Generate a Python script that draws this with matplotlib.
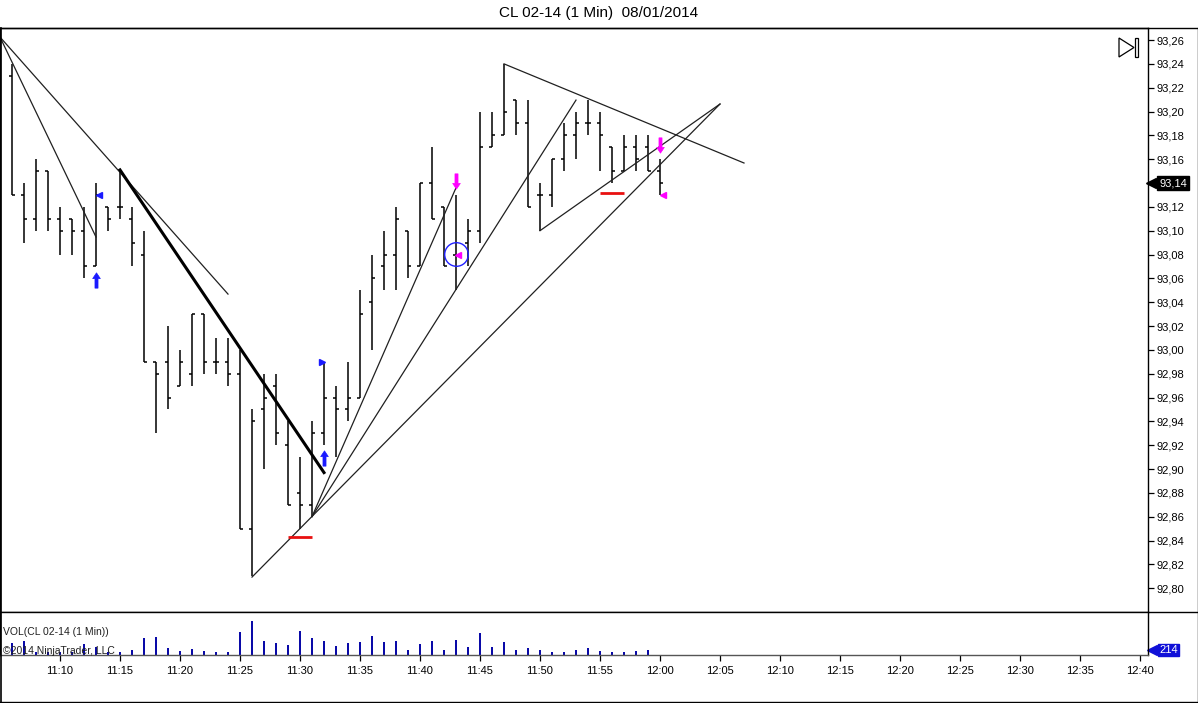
import matplotlib
matplotlib.use("Agg")
import matplotlib.pyplot as plt
from matplotlib.path import Path
from matplotlib.lines import Line2D
from matplotlib.patches import Polygon, Rectangle
import numpy as np

plt.rcParams['font.family'] = ['Liberation Sans', 'DejaVu Sans']

# ---------------- data ----------------
# minutes after 11:00
minutes = list(range(6, 61))
opens  = [93.23, 93.13, 93.11, 93.15, 93.11, 93.11, 93.10, 93.07, 93.12, 93.12,
          93.11, 93.08, 92.99, 92.99, 92.97, 92.98, 93.03, 92.99, 92.99, 92.98,
          92.85, 92.95, 92.97, 92.92, 92.88, 92.87, 92.93, 92.96, 92.95, 92.96,
          93.04, 93.07, 93.08, 93.10, 93.07, 93.14, 93.12, 93.08, 93.09, 93.10,
          93.17, 93.18, 93.21, 93.19, 93.13, 93.13, 93.16, 93.18, 93.19, 93.19,
          93.17, 93.15, 93.17, 93.17, 93.15]
highs  = [93.24, 93.14, 93.16, 93.15, 93.12, 93.11, 93.12, 93.14, 93.12, 93.15,
          93.12, 93.10, 92.99, 93.02, 93.00, 93.03, 93.03, 93.01, 93.01, 93.00,
          92.95, 92.98, 92.98, 92.94, 92.91, 92.94, 92.99, 92.97, 92.99, 93.05,
          93.08, 93.10, 93.12, 93.10, 93.14, 93.17, 93.12, 93.13, 93.11, 93.20,
          93.20, 93.24, 93.21, 93.21, 93.14, 93.16, 93.19, 93.20, 93.21, 93.20,
          93.17, 93.18, 93.18, 93.18, 93.16]
lows   = [93.13, 93.09, 93.10, 93.10, 93.08, 93.08, 93.06, 93.07, 93.10, 93.11,
          93.07, 92.99, 92.93, 92.95, 92.97, 92.97, 92.98, 92.98, 92.97, 92.85,
          92.81, 92.90, 92.92, 92.87, 92.85, 92.86, 92.92, 92.91, 92.94, 92.96,
          93.00, 93.05, 93.05, 93.06, 93.07, 93.11, 93.07, 93.05, 93.07, 93.09,
          93.17, 93.18, 93.18, 93.12, 93.10, 93.12, 93.15, 93.16, 93.18, 93.15,
          93.14, 93.15, 93.15, 93.15, 93.13]
closes = [93.13, 93.11, 93.15, 93.11, 93.10, 93.10, 93.07, 93.13, 93.11, 93.12,
          93.09, 92.99, 92.98, 92.96, 92.99, 93.03, 92.99, 92.99, 92.98, 92.85,
          92.94, 92.96, 92.93, 92.87, 92.87, 92.93, 92.96, 92.95, 92.96, 93.03,
          93.06, 93.08, 93.11, 93.07, 93.14, 93.11, 93.07, 93.08, 93.10, 93.17,
          93.18, 93.20, 93.19, 93.12, 93.13, 93.16, 93.18, 93.19, 93.19, 93.18,
          93.15, 93.17, 93.16, 93.15, 93.14]

vol_minutes = list(range(6, 60))
volumes = [530, 600, 130, 130, 130, 130, 490, 360, 130, 130,
           215, 745, 790, 300, 170, 260, 170, 130, 130, 990,
           1460, 600, 515, 430, 1030, 730, 600, 385, 515, 560,
           815, 560, 600, 215, 470, 600, 215, 645, 345, 945,
           345, 560, 215, 300, 215, 130, 130, 215, 300, 170,
           130, 130, 170, 214]
last_volume = 214
last_price = 93.14

# drawn trend lines: (m0, p0, m1, p1)
trend_thin = [(5, 93.2625, 13, 93.0947),
              (5, 93.2625, 24, 93.0468),
              (26, 92.8093, 65, 93.2063),
              (31, 92.86, 43, 93.136),
              (31, 92.86, 53, 93.2096),
              (47, 93.24, 67, 93.1568),
              (50, 93.10, 65, 93.2063)]
trend_thick = [(15, 93.151, 32, 92.897)]

buy_arrow_m = [13, 32]
buy_arrow_p = [93.059, 92.909]
sell_arrow_m = [43, 60]
sell_arrow_p = [93.142, 93.172]
blue_left_m, blue_left_p = [13.25], [93.13]
blue_right_m, blue_right_p = [31.83], [92.99]
mag_left_m = [43.17, 60.25]
mag_left_p = [93.08, 93.13]
circle_m, circle_p = [43], [93.0804]
red_lines = [(29, 31, 92.843), (55, 57, 93.1316)]

xtick_minutes = list(range(10, 101, 5))
xtick_labels = ["11:10", "11:15", "11:20", "11:25", "11:30", "11:35", "11:40",
                "11:45", "11:50", "11:55", "12:00", "12:05", "12:10", "12:15",
                "12:20", "12:25", "12:30", "12:35", "12:40"]
ytick_prices = [round(92.80 + 0.02 * i, 2) for i in range(24)]

# ---------------- figure ----------------
W, H = 1198, 703
fig = plt.figure(figsize=(W / 100, H / 100), dpi=100)

def fy(y):  # pixel-from-top -> figure fraction
    return 1 - y / H

ax_right = 1148
ax = fig.add_axes([0, fy(612), ax_right / W, (612 - 28) / H])
axv = fig.add_axes([0, fy(655), ax_right / W, (655 - 612) / H], sharex=ax)

xmin, xmax = 5, 5 + ax_right / 12
ax.set_xlim(xmin, xmax)
ax.set_ylim(92.780, 93.2701)

# OHLC bars
tk = 0.28
for m, o, h, l, c in zip(minutes, opens, highs, lows, closes):
    ax.plot([m, m], [l, h], color='black', lw=1.1, solid_capstyle='butt')
    ax.plot([m - tk, m], [o, o], color='black', lw=1.1, solid_capstyle='butt')
    ax.plot([m, m + tk], [c, c], color='black', lw=1.1, solid_capstyle='butt')

for (m0, p0, m1, p1) in trend_thin:
    ax.plot([m0, m1], [p0, p1], color='#202020', lw=0.9)
for (m0, p0, m1, p1) in trend_thick:
    ax.plot([m0, m1], [p0, p1], color='black', lw=2.2)

up_arrow = Path([(0, 1), (0.5, 0.25), (0.2, 0.25), (0.2, -1), (-0.2, -1),
                 (-0.2, 0.25), (-0.5, 0.25), (0, 1)], closed=True)
down_arrow = Path([(0, -1), (0.5, -0.25), (0.2, -0.25), (0.2, 1), (-0.2, 1),
                   (-0.2, -0.25), (-0.5, -0.25), (0, -1)], closed=True)

ax.plot(buy_arrow_m, buy_arrow_p, ls='none', marker=up_arrow, ms=11,
        color='#1a1aff', mec='#1a1aff', mew=0.5)
ax.plot(sell_arrow_m, sell_arrow_p, ls='none', marker=down_arrow, ms=11,
        color='#ff00ff', mec='#ff00ff', mew=0.5)
ax.plot(blue_left_m, blue_left_p, ls='none', marker='<', ms=5, color='#1a1aff')
ax.plot(blue_right_m, blue_right_p, ls='none', marker='>', ms=5, color='#1a1aff')
ax.plot(mag_left_m, mag_left_p, ls='none', marker='<', ms=5, color='#ff00ff')
ax.plot(circle_m, circle_p, ls='none', marker='o', ms=17, mfc='none',
        mec='#2020ff', mew=1.0)
for (m0, m1, p) in red_lines:
    ax.plot([m0, m1], [p, p], color='#e81010', lw=2.0, solid_capstyle='butt')

# price axis (the last price label replaces its tick label)
ax.yaxis.tick_right()
ax.set_yticks(ytick_prices)
ax.set_yticklabels(["" if abs(p - last_price) < 1e-9 else
                    f"{p:.2f}".replace('.', ',') for p in ytick_prices])
ax.tick_params(axis='y', direction='out', length=4, width=0.9, pad=2,
               labelsize=8, colors='black')
ax.tick_params(axis='x', which='both', bottom=False, labelbottom=False)
for s in ['left', 'top', 'right', 'bottom']:
    ax.spines[s].set_linewidth(1.0)
    ax.spines[s].set_color('black')

# last price label
ax.annotate(f"{last_price:.2f}".replace('.', ','), xy=(1.0, last_price),
            xycoords=('axes fraction', 'data'), xytext=(8, 0),
            textcoords='offset points', ha='left', va='center', fontsize=8,
            color='white',
            bbox=dict(boxstyle='square,pad=0.15', fc='black', ec='black'),
            annotation_clip=False)
ax.plot([1.0 + 3.5 / ax_right], [last_price], marker='<', ms=7, color='black',
        transform=ax.get_yaxis_transform(), clip_on=False)

# volume panel
axv.bar(vol_minutes, volumes, width=0.22, color='#0a0aa8')
axv.set_ylim(0, max(volumes) * 43 / 34)
axv.set_yticks([])
axv.set_xticks(xtick_minutes)
axv.set_xticklabels(xtick_labels)
axv.tick_params(axis='x', direction='out', length=4, width=0.9, pad=4,
                labelsize=8)
for s in ['left', 'right', 'bottom']:
    axv.spines[s].set_linewidth(1.0)
axv.spines['top'].set_visible(False)
axv.spines['bottom'].set_color('#555555')
axv.text(0.003, 0.53, "VOL(CL 02-14 (1 Min))", transform=axv.transAxes,
         fontsize=7.5, color='#202020', ha='left', va='center')
axv.text(0.003, 0.1, "\u00a92014 NinjaTrader, LLC", transform=axv.transAxes,
         fontsize=7.5, color='#202020', ha='left', va='center')
axv.annotate(str(last_volume), xy=(1.0, last_volume),
             xycoords=('axes fraction', 'data'), xytext=(8, 0),
             textcoords='offset points', ha='left', va='center', fontsize=8,
             color='white',
             bbox=dict(boxstyle='square,pad=0.1', fc='#1010d8', ec='#1010d8'),
             annotation_clip=False)
axv.plot([1.0 + 4 / ax_right], [last_volume], marker='<', ms=7,
         color='#1010d8', transform=axv.get_yaxis_transform(), clip_on=False)

# outer frame lines
for y in (28, 612):
    fig.add_artist(Line2D([0, 1], [fy(y), fy(y)], color='black', lw=1.0,
                          transform=fig.transFigure))
fig.add_artist(Line2D([0.5 / W, 0.5 / W], [fy(28), fy(702)], color='black',
                      lw=1.2, transform=fig.transFigure))
fig.add_artist(Line2D([1 - 0.5 / W, 1 - 0.5 / W], [fy(28), fy(702)],
                      color='black', lw=1.0, transform=fig.transFigure))
fig.add_artist(Line2D([0, 1], [fy(702), fy(702)], color='black', lw=1.0,
                      transform=fig.transFigure))

# play/end icon at top right
tri = Polygon([(1119 / W, fy(38)), (1119 / W, fy(57)), (1134 / W, fy(47.5))],
              closed=True, fill=False, ec='black', lw=0.9,
              transform=fig.transFigure)
fig.add_artist(tri)
fig.add_artist(Rectangle((1134.5 / W, fy(57)), 3 / W, 19 / H, fill=False,
                         ec='black', lw=0.9, transform=fig.transFigure))

fig.text(0.5, fy(13), "CL 02-14 (1 Min)  08/01/2014", ha='center',
         va='center', fontsize=11, color='black')

fig.savefig("out.png", dpi=100)
